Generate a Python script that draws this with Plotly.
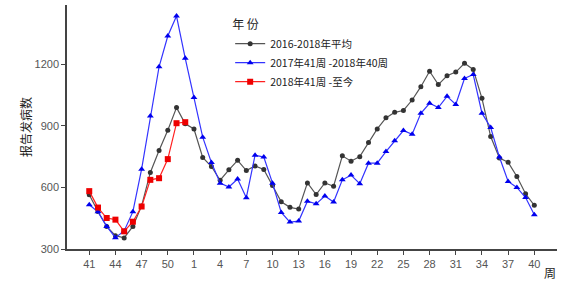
import plotly.graph_objects as go

weeks = [str(w) for w in list(range(41, 53)) + list(range(1, 41))]

avg_2016_2018 = [564, 483, 410, 365, 354, 410, 510, 673, 780, 879, 989, 910,
                 885, 746, 702, 635, 686, 732, 682, 705, 688, 609, 530, 503,
                 495, 622, 565, 622, 606, 754, 728, 750, 819, 885, 939, 966,
                 975, 1026, 1091, 1166, 1101, 1144, 1162, 1205, 1175, 1034, 848, 743,
                 723, 653, 569, 513]

s2017_2018 = [516, 481, 410, 355, 388, 482, 689, 948, 1188, 1338, 1435, 1229,
              1038, 845, 721, 621, 602, 641, 550, 757, 748, 621, 478, 431,
              436, 533, 520, 558, 529, 637, 660, 618, 718, 718, 775, 828,
              877, 859, 961, 1010, 989, 1044, 1004, 1131, 1150, 962, 892, 748,
              629, 600, 551, 467]

s2018_now = [582, 502, 451, 443, 386, 433, 507, 637, 645, 738, 913, 918]

tick_labels = weeks[::3]
y_ticks = [300, 600, 900, 1200]

fig = go.Figure()
fig.add_trace(go.Scatter(
    x=weeks, y=avg_2016_2018, mode="lines+markers", name="2016-2018年平均",
    line=dict(color="#555555", width=1.2),
    marker=dict(symbol="circle", size=5, color="#333333")))
fig.add_trace(go.Scatter(
    x=weeks, y=s2017_2018, mode="lines+markers", name="2017年41周 -2018年40周",
    line=dict(color="#3333ff", width=1.2),
    marker=dict(symbol="triangle-up", size=6, color="#0000ee")))
fig.add_trace(go.Scatter(
    x=weeks[:len(s2018_now)], y=s2018_now, mode="lines+markers", name="2018年41周 -至今",
    line=dict(color="#ff2020", width=1.2),
    marker=dict(symbol="square", size=6, color="#ee0000")))

axis_font = dict(family="Liberation Sans, Arial, sans-serif", size=11, color="#555555")

fig.update_layout(
    width=579, height=291,
    margin=dict(l=67, r=22, t=5, b=42),
    paper_bgcolor="white", plot_bgcolor="white",
    font=dict(family="Liberation Sans, Noto Sans CJK SC, sans-serif", size=11, color="#222222"),
    showlegend=True,
    legend=dict(
        title=dict(text="年 份", font=dict(size=12, family="Noto Sans CJK SC", color="#222222")),
        x=0.333, y=0.965, xanchor="left", yanchor="top",
        font=dict(size=10.5, family="Noto Sans CJK SC, sans-serif", color="#222222"),
        bgcolor="rgba(0,0,0,0)", itemwidth=30, tracegroupgap=0,
    ),
    xaxis=dict(
        type="category", categoryorder="array", categoryarray=weeks,
        range=[-2.55, 53.6],
        tickmode="array", tickvals=tick_labels, ticktext=tick_labels,
        showgrid=False, zeroline=False,
        showline=True, linecolor="#444444", linewidth=1.5,
        ticks="outside", ticklen=4, tickcolor="#444444", tickwidth=1,
        tickfont=axis_font,
    ),
    yaxis=dict(
        range=[300, 1489],
        tickmode="array", tickvals=y_ticks,
        showgrid=False, zeroline=False,
        showline=True, linecolor="#444444", linewidth=1.5,
        ticks="outside", ticklen=4, tickcolor="#444444", tickwidth=1,
        tickfont=axis_font,
        title=dict(text="报告发病数", font=dict(size=12, family="Noto Sans CJK SC", color="#222222"), standoff=0),
    ),
    annotations=[dict(text="周", xref="paper", yref="paper", x=0.985, y=-0.055,
                      xanchor="center", yanchor="top", showarrow=False,
                      font=dict(size=12, family="Noto Sans CJK SC", color="#222222"))],
)

fig.write_html("out.html")
